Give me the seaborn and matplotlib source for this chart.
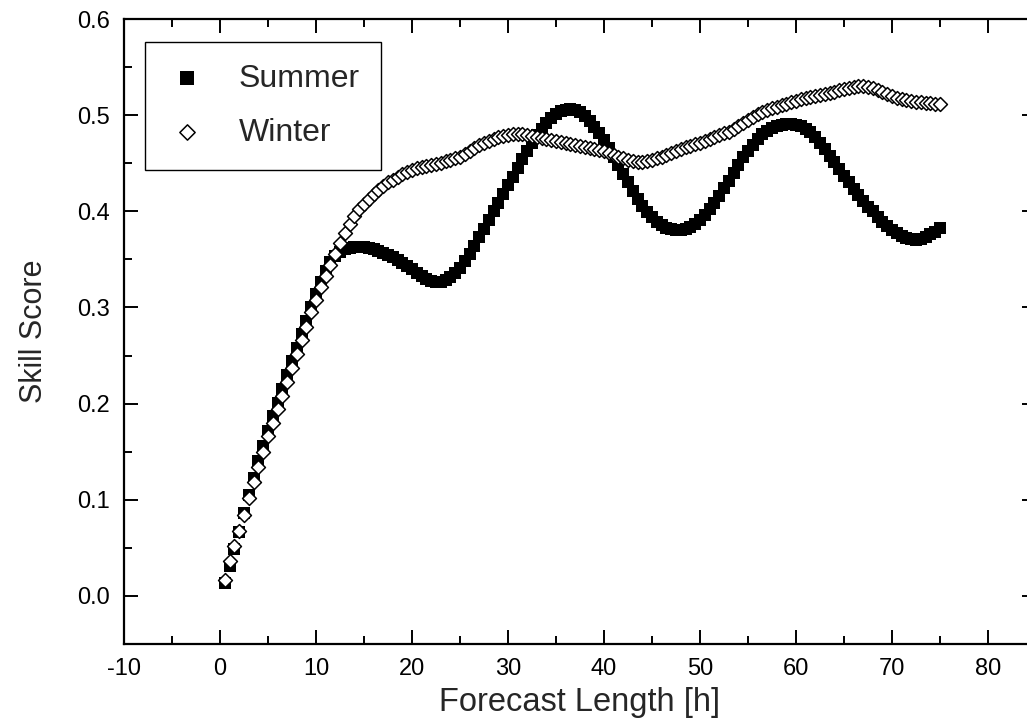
import numpy as np
import pandas as pd
import matplotlib
matplotlib.use("Agg")
import matplotlib.pyplot as plt
from matplotlib.ticker import MultipleLocator
import seaborn as sns

# Forecast lead times [h], half-hour steps
hours = np.arange(0.5, 75.5, 0.5)

summer_skill = [
    0.013, 0.031, 0.049, 0.067, 0.086, 0.105, 0.123, 0.140, 0.156, 0.172,
    0.187, 0.201, 0.215, 0.230, 0.244, 0.258, 0.272, 0.286, 0.300, 0.314,
    0.327, 0.338, 0.347, 0.354, 0.358, 0.361, 0.362, 0.363, 0.363, 0.363,
    0.362, 0.361, 0.359, 0.357, 0.355, 0.352, 0.349, 0.346, 0.343, 0.340,
    0.336, 0.333, 0.330, 0.328, 0.327, 0.327, 0.329, 0.332, 0.336, 0.341,
    0.348, 0.356, 0.364, 0.373, 0.382, 0.391, 0.400, 0.409, 0.418, 0.427,
    0.436, 0.445, 0.454, 0.463, 0.471, 0.479, 0.486, 0.492, 0.497, 0.501,
    0.504, 0.505, 0.506, 0.505, 0.503, 0.499, 0.494, 0.488, 0.481, 0.474,
    0.466, 0.457, 0.448, 0.439, 0.430, 0.421, 0.413, 0.406, 0.399, 0.394,
    0.389, 0.386, 0.383, 0.382, 0.381, 0.381, 0.382, 0.384, 0.387, 0.391,
    0.396, 0.402, 0.409, 0.416, 0.424, 0.432, 0.440, 0.448, 0.456, 0.463,
    0.469, 0.475, 0.480, 0.484, 0.487, 0.489, 0.490, 0.491, 0.491, 0.490,
    0.489, 0.486, 0.482, 0.477, 0.471, 0.465, 0.458, 0.451, 0.444, 0.437,
    0.430, 0.423, 0.417, 0.411, 0.405, 0.400, 0.394, 0.389, 0.385, 0.381,
    0.377, 0.374, 0.372, 0.371, 0.370, 0.371, 0.373, 0.376, 0.379, 0.383,
]

winter_skill = [
    0.017, 0.036, 0.052, 0.068, 0.084, 0.102, 0.119, 0.134, 0.150, 0.166,
    0.180, 0.194, 0.208, 0.223, 0.237, 0.252, 0.266, 0.280, 0.295, 0.308,
    0.321, 0.333, 0.344, 0.356, 0.367, 0.377, 0.387, 0.395, 0.402, 0.408,
    0.413, 0.418, 0.422, 0.426, 0.430, 0.433, 0.436, 0.439, 0.441, 0.443,
    0.445, 0.446, 0.447, 0.448, 0.449, 0.450, 0.452, 0.453, 0.455, 0.457,
    0.460, 0.463, 0.466, 0.469, 0.471, 0.473, 0.475, 0.477, 0.478, 0.479,
    0.480, 0.480, 0.480, 0.479, 0.478, 0.477, 0.476, 0.475, 0.474, 0.473,
    0.472, 0.471, 0.470, 0.469, 0.468, 0.467, 0.466, 0.465, 0.464, 0.463,
    0.461, 0.459, 0.457, 0.455, 0.453, 0.452, 0.451, 0.451, 0.452, 0.453,
    0.455, 0.457, 0.459, 0.461, 0.463, 0.465, 0.467, 0.468, 0.470, 0.471,
    0.473, 0.475, 0.477, 0.479, 0.481, 0.483, 0.486, 0.489, 0.492, 0.495,
    0.498, 0.501, 0.503, 0.505, 0.507, 0.509, 0.511, 0.512, 0.514, 0.515,
    0.517, 0.518, 0.519, 0.520, 0.521, 0.522, 0.523, 0.524, 0.526, 0.527,
    0.528, 0.529, 0.530, 0.530, 0.529, 0.528, 0.526, 0.524, 0.522, 0.520,
    0.518, 0.517, 0.516, 0.515, 0.514, 0.514, 0.513, 0.513, 0.512, 0.512,
]

seasons = ["Summer", "Winter"]

df = pd.concat([
    pd.DataFrame({"hours": hours, "skill": summer_skill, "season": seasons[0]}),
    pd.DataFrame({"hours": hours, "skill": winter_skill, "season": seasons[1]}),
])

sns.set_style("ticks")
plt.rcParams["font.family"] = ["Liberation Sans", "DejaVu Sans"]
plt.rcParams["axes.unicode_minus"] = False

fig = plt.figure(figsize=(10.27, 7.2), dpi=100)
ax = fig.add_axes([124 / 1027, 76 / 720, 912 / 1027, 625 / 720])

sns.scatterplot(data=df[df.season == "Summer"], x="hours", y="skill",
                marker="s", s=76, color="black", linewidth=0,
                label="Summer", ax=ax)
sns.scatterplot(data=df[df.season == "Winter"], x="hours", y="skill",
                marker="D", s=50, color="white", edgecolor="black",
                linewidth=1.1, label="Winter", ax=ax)

ax.set_xlim(-10, 85)
ax.set_ylim(-0.05, 0.6)
ax.xaxis.set_major_locator(MultipleLocator(10))
ax.xaxis.set_minor_locator(MultipleLocator(5))
ax.yaxis.set_major_locator(MultipleLocator(0.1))
ax.yaxis.set_minor_locator(MultipleLocator(0.05))
ax.yaxis.set_major_formatter(matplotlib.ticker.FormatStrFormatter("%.1f"))

ax.tick_params(which="both", direction="in", top=True, right=True,
               color="black", width=1.4, labelsize=17, labelcolor="black",
               pad=10)
ax.tick_params(which="major", length=10)
ax.tick_params(which="minor", length=6)
for sp in ax.spines.values():
    sp.set_color("black")
    sp.set_linewidth(1.6)
    sp.set_visible(True)

ax.set_xlabel("Forecast Length [h]", fontsize=23.5, labelpad=5)
ax.set_ylabel("Skill Score", fontsize=22, labelpad=20)

leg = ax.legend(loc="upper left", bbox_to_anchor=(0.023, 0.963),
                borderaxespad=0, frameon=True, fancybox=False,
                edgecolor="black", framealpha=1, fontsize=23,
                borderpad=0.68, labelspacing=0.75, handlelength=1.3,
                handletextpad=0.95, markerscale=1.1)
leg.get_frame().set_linewidth(1.0)

fig.savefig("out.png", dpi=100)
